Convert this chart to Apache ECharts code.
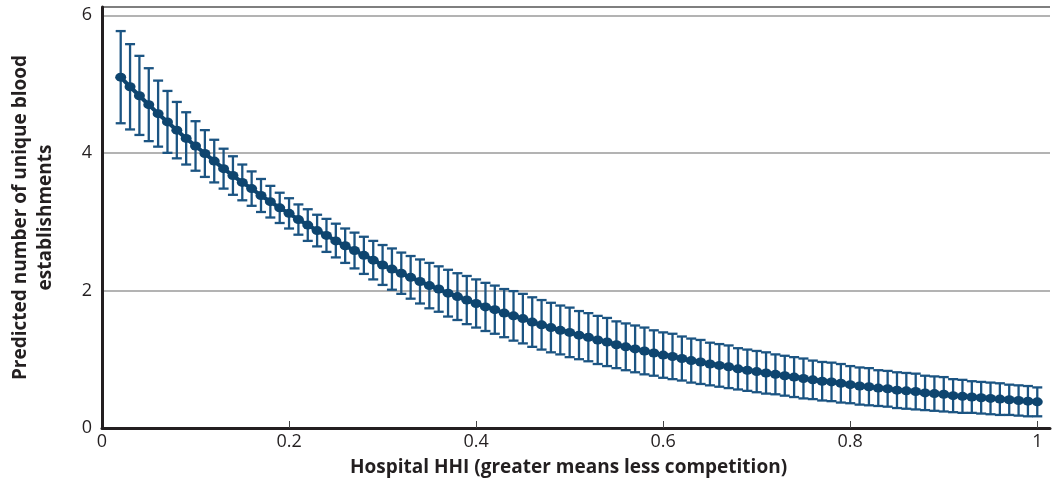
<!DOCTYPE html>
<html>
<head>
<meta charset="utf-8">
<script src="https://cdn.jsdelivr.net/npm/echarts@6/dist/echarts.min.js"></script>
<style>html,body{margin:0;padding:0;background:#fff}#c{width:1052px;height:487px}</style>
</head>
<body>
<div id="c"></div>
<script>
const hhi = [0.02,0.03,0.04,0.05,0.06,0.07,0.08,0.09,0.10,0.11,0.12,0.13,0.14,0.15,0.16,0.17,0.18,0.19,0.20,0.21,0.22,0.23,0.24,0.25,0.26,0.27,0.28,0.29,0.30,0.31,0.32,0.33,0.34,0.35,0.36,0.37,0.38,0.39,0.40,0.41,0.42,0.43,0.44,0.45,0.46,0.47,0.48,0.49,0.50,0.51,0.52,0.53,0.54,0.55,0.56,0.57,0.58,0.59,0.60,0.61,0.62,0.63,0.64,0.65,0.66,0.67,0.68,0.69,0.70,0.71,0.72,0.73,0.74,0.75,0.76,0.77,0.78,0.79,0.80,0.81,0.82,0.83,0.84,0.85,0.86,0.87,0.88,0.89,0.90,0.91,0.92,0.93,0.94,0.95,0.96,0.97,0.98,0.99,1.00];
const predicted = [5.10,4.96,4.83,4.70,4.57,4.45,4.33,4.21,4.10,3.99,3.88,3.77,3.67,3.57,3.48,3.38,3.29,3.20,3.12,3.03,2.95,2.87,2.80,2.72,2.65,2.58,2.51,2.44,2.37,2.31,2.25,2.19,2.13,2.07,2.02,1.96,1.91,1.86,1.81,1.76,1.72,1.67,1.63,1.59,1.54,1.50,1.46,1.42,1.39,1.35,1.32,1.28,1.25,1.21,1.18,1.15,1.12,1.09,1.06,1.04,1.01,0.98,0.96,0.93,0.91,0.89,0.86,0.84,0.82,0.80,0.78,0.76,0.74,0.72,0.70,0.68,0.67,0.65,0.63,0.61,0.60,0.58,0.57,0.55,0.54,0.53,0.51,0.50,0.49,0.47,0.46,0.45,0.44,0.43,0.42,0.41,0.40,0.39,0.38];
const lower = [4.43,4.34,4.26,4.17,4.09,4.00,3.92,3.83,3.74,3.65,3.57,3.48,3.39,3.31,3.23,3.14,3.06,2.98,2.90,2.81,2.72,2.64,2.56,2.48,2.40,2.32,2.24,2.16,2.08,2.01,1.95,1.88,1.81,1.74,1.69,1.62,1.57,1.51,1.46,1.41,1.37,1.32,1.27,1.23,1.18,1.14,1.10,1.07,1.03,1.00,0.97,0.93,0.90,0.87,0.84,0.81,0.78,0.76,0.73,0.71,0.69,0.66,0.64,0.62,0.60,0.58,0.56,0.54,0.52,0.50,0.49,0.47,0.45,0.43,0.42,0.40,0.39,0.37,0.36,0.34,0.33,0.32,0.31,0.29,0.28,0.27,0.26,0.25,0.24,0.23,0.22,0.22,0.21,0.20,0.19,0.19,0.18,0.17,0.17];
const upper = [5.77,5.58,5.41,5.23,5.05,4.90,4.74,4.59,4.46,4.33,4.19,4.06,3.95,3.83,3.73,3.62,3.52,3.42,3.34,3.25,3.18,3.10,3.04,2.97,2.90,2.84,2.78,2.72,2.66,2.61,2.55,2.50,2.45,2.40,2.35,2.30,2.25,2.21,2.16,2.11,2.07,2.02,1.99,1.95,1.90,1.86,1.82,1.78,1.75,1.70,1.67,1.63,1.60,1.55,1.52,1.49,1.46,1.42,1.39,1.37,1.33,1.30,1.28,1.24,1.22,1.20,1.16,1.14,1.12,1.10,1.07,1.05,1.03,1.01,0.98,0.96,0.95,0.93,0.90,0.88,0.87,0.84,0.83,0.81,0.80,0.79,0.76,0.75,0.74,0.71,0.70,0.68,0.67,0.66,0.65,0.63,0.62,0.61,0.59];
const xTicks = [0, 0.2, 0.4, 0.6, 0.8, 1];
const yTicks = [0, 2, 4, 6];
const xTitle = 'Hospital HHI (greater means less competition)';
const yTitle = 'Predicted number of unique blood\nestablishments';

const barColor = '#1b5482';
const dotColor = '#0e456f';
const font = "'Open Sans', 'Noto Sans', sans-serif";

const pts = hhi.map((x, i) => [x, predicted[i]]);
const bars = hhi.map((x, i) => [x, lower[i], upper[i]]);
const isTick = (v, arr) => arr.some(t => Math.abs(t - v) < 1e-6);

const chart = echarts.init(document.getElementById('c'), null, {renderer: 'canvas'});
chart.setOption({
  animation: false,
  backgroundColor: '#fff',
  grid: {left: 98, right: 2, top: 7, bottom: 59, containLabel: false},
  xAxis: {
    type: 'value', min: 0, max: 1.0136, interval: 0.2,
    axisLine: {show: true, onZero: false, lineStyle: {color: '#231f20', width: 3}},
    axisTick: {show: true, inside: true, length: 7, lineStyle: {color: '#444', width: 1}, customValues: xTicks.slice(1)},
    axisLabel: {fontFamily: font, fontSize: 18, color: '#231f20', margin: 5, customValues: xTicks,
      formatter: v => isTick(v, xTicks) ? String(+v.toFixed(1)) : ''},
    splitLine: {show: false},
    name: xTitle, nameLocation: 'middle', nameGap: 30,
    nameTextStyle: {fontFamily: font, fontSize: 19, fontWeight: 'bold', color: '#231f20', padding: [0, 15, 0, 0]}
  },
  yAxis: {
    type: 'value', min: 0, max: 6.12, interval: 2,
    axisLine: {show: true, lineStyle: {color: '#231f20', width: 3}},
    axisTick: {show: false},
    axisLabel: {fontFamily: font, fontSize: 18, color: '#231f20', margin: 10,
      formatter: v => isTick(v, yTicks) ? String(v) : ''},
    splitLine: {show: true, lineStyle: {color: ['#9a9a9a', '#9a9a9a', '#9a9a9a', '#9a9a9a', '#555'], width: 1.5}},
    name: yTitle, nameLocation: 'middle', nameGap: 44, nameRotate: 90,
    nameTextStyle: {fontFamily: font, fontSize: 19, fontWeight: 'bold', color: '#231f20', lineHeight: 25, align: 'center'}
  },
  series: [
    {
      type: 'custom',
      data: bars,
      z: 2,
      renderItem: function (params, api) {
        const x = api.value(0);
        const pLo = api.coord([x, api.value(1)]);
        const pHi = api.coord([x, api.value(2)]);
        const w = 5;
        const st = {stroke: barColor, lineWidth: 2.3};
        return {type: 'group', children: [
          {type: 'line', shape: {x1: pHi[0], y1: pHi[1], x2: pLo[0], y2: pLo[1]}, style: st},
          {type: 'line', shape: {x1: pHi[0] - w, y1: pHi[1], x2: pHi[0] + w, y2: pHi[1]}, style: st},
          {type: 'line', shape: {x1: pLo[0] - w, y1: pLo[1], x2: pLo[0] + w, y2: pLo[1]}, style: st}
        ]};
      }
    },
    {
      type: 'line',
      data: pts,
      z: 3,
      symbol: 'circle',
      symbolSize: [11, 9],
      showSymbol: true,
      lineStyle: {color: dotColor, width: 4},
      itemStyle: {color: dotColor}
    }
  ]
});
</script>
</body>
</html>
